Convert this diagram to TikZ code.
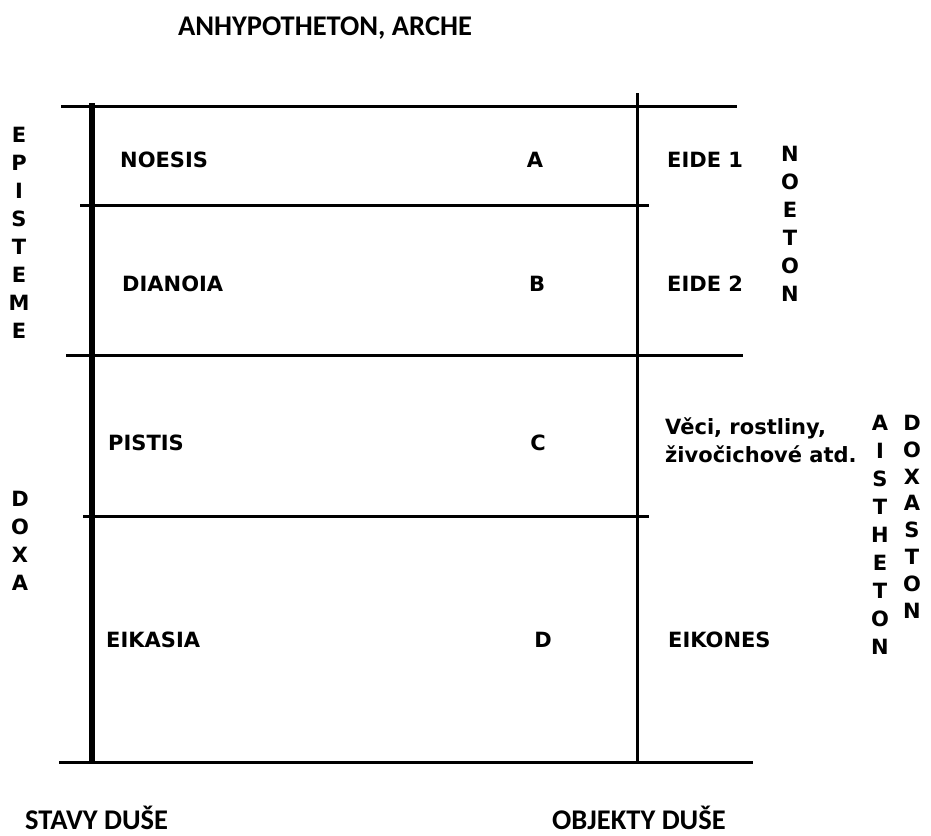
\documentclass[tikz,border=0pt]{standalone}
\usepackage{fontspec}
\setmainfont{DejaVu Sans}
\newfontfamily\condfont{Carlito}
\begin{document}
\begin{tikzpicture}[x=1pt,y=-1pt,
  lbl/.style={font=\bfseries\fontsize{21}{28}\selectfont, inner sep=0pt},
  vstack/.style={font=\bfseries\fontsize{21}{28}\selectfont, inner sep=0pt, align=center, anchor=north},
  vstacknarrow/.style={font=\bfseries\fontsize{21}{26.8}\selectfont, inner sep=0pt, align=center, anchor=north},
  cond/.style={font=\condfont\bfseries\fontsize{28.5}{34}\selectfont, inner sep=0pt},
  rule/.style={line width=3pt, black},
  heavyrule/.style={line width=5.5pt, black}]
\useasboundingbox (0,0) rectangle (931,835);
% horizontal lines
\draw[rule] (61,106) -- (737,106);
\draw[rule] (80,205) -- (649,205);
\draw[rule] (66,355.5) -- (743,355.5);
\draw[rule] (83,516) -- (649,516);
\draw[rule] (59,762) -- (753,762);
% vertical lines
\draw[heavyrule] (92,103) -- (92,762);
\draw[rule] (637,93) -- (637,762);
% top / bottom titles
\node[cond] (top) at (325,28) {ANHYPOTHETON, ARCHE};
\node[cond, anchor=base west] (stavy) at (25,829) {STAVY DUŠE};
\node[cond, anchor=base west] (objekty) at (552,829) {OBJEKTY DUŠE};
% left column
\node[lbl, anchor=west] (noesis) at (120,160) {NOESIS};
\node[lbl, anchor=west] (dianoia) at (122,284) {DIANOIA};
\node[lbl, anchor=west] (pistis) at (108,443) {PISTIS};
\node[lbl, anchor=west] (eikasia) at (106,640) {EIKASIA};
% letters
\node[lbl] (a) at (535,160) {A};
\node[lbl] (b) at (537,284) {B};
\node[lbl] (c) at (538,443) {C};
\node[lbl] (d) at (543,640) {D};
% objects
\node[lbl, anchor=west] (eide1) at (667,160) {EIDE 1};
\node[lbl, anchor=west] (eide2) at (667,284) {EIDE 2};
\node[lbl, anchor=base west] (veci1) at (665,434.5) {Věci, rostliny,};
\node[lbl, anchor=base west] (veci2) at (665,462.5) {živočichové atd.};
\node[lbl, anchor=west] (eikones) at (668,640) {EIKONES};
% vertical words
\node[vstack] (episteme) at (19,127) {E\\P\\I\\S\\T\\E\\M\\E};
\node[vstack] (doxa) at (20,491) {D\\O\\X\\A};
\node[vstack] (noeton) at (790,146) {N\\O\\E\\T\\O\\N};
\node[vstack] (aistheton) at (880,415) {A\\I\\S\\T\\H\\E\\T\\O\\N};
\node[vstacknarrow] (doxaston) at (912,415) {D\\O\\X\\A\\S\\T\\O\\N};
\end{tikzpicture}
\end{document}
